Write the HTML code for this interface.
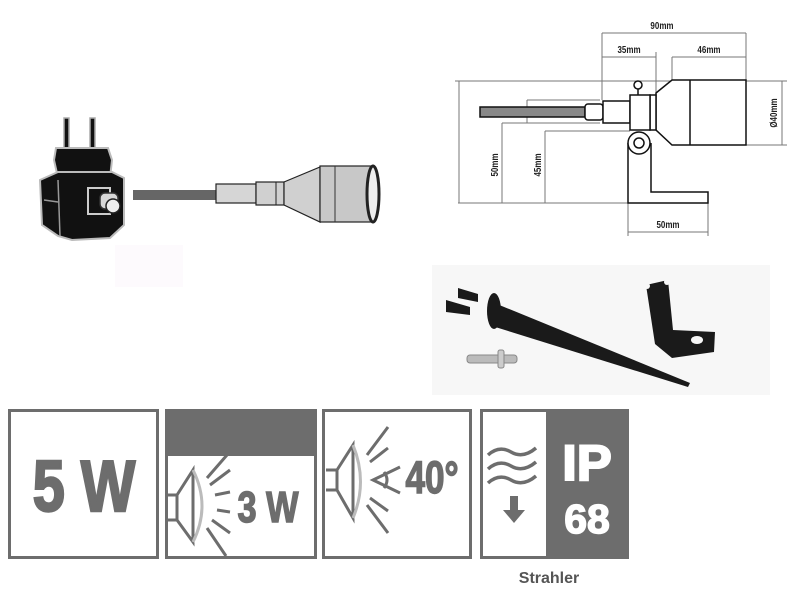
<!DOCTYPE html>
<html><head><meta charset="utf-8"><style>
html,body{margin:0;padding:0;background:#fff;width:800px;height:600px;overflow:hidden}
svg{display:block}
text{font-family:"Liberation Sans",sans-serif}
</style></head><body>
<svg width="800" height="600" viewBox="0 0 800 600">
<!-- plug -->
<g>
<rect x="64" y="118" width="5" height="30" fill="#111" stroke="#aaa" stroke-width="1.5"/>
<rect x="90" y="118" width="5" height="30" fill="#111" stroke="#aaa" stroke-width="1.5"/>
<path d="M56 148 L108 148 L112 160 L110 178 L58 178 L54 160 Z" fill="#111" stroke="#bbb" stroke-width="2"/>
<path d="M40 180 L58 172 L112 172 L124 178 L124 225 L110 238 L72 240 L58 236 L42 225 Z" fill="#111" stroke="#bbb" stroke-width="2"/>
<line x1="58" y1="180" x2="60" y2="236" stroke="#999" stroke-width="1.5"/>
<line x1="44" y1="200" x2="58" y2="202" stroke="#999" stroke-width="1.5"/>
<rect x="88" y="188" width="22" height="26" fill="#111" stroke="#ccc" stroke-width="2"/>
<rect x="100" y="193" width="18" height="16" rx="5" fill="#d8d8d8" stroke="#333" stroke-width="1.5"/>
<circle cx="113" cy="206" r="7" fill="#eee" stroke="#222" stroke-width="1.5"/>
</g>
<!-- cable & connector -->
<rect x="133" y="190" width="84" height="10" fill="#666"/>
<rect x="216" y="184" width="40" height="19" fill="#d6d6d6" stroke="#222" stroke-width="1.2"/>
<rect x="256" y="182" width="28" height="23" fill="#d0d0d0" stroke="#222" stroke-width="1.2"/>
<line x1="276" y1="182" x2="276" y2="205" stroke="#222"/>
<path d="M284 182 L320 167 L320 222 L284 205 Z" fill="#d0d0d0" stroke="#222" stroke-width="1.2"/>
<rect x="320" y="166" width="53" height="56" fill="#c8c8c8" stroke="#222" stroke-width="1.2"/>
<line x1="335" y1="166" x2="335" y2="222" stroke="#333"/>
<ellipse cx="373" cy="194" rx="6" ry="28" fill="#eee" stroke="#222" stroke-width="3"/>
<rect x="115" y="245" width="68" height="42" fill="#fdfafd"/>
<!-- technical drawing -->
<g stroke="#777" stroke-width="1" fill="none">
<line x1="602" y1="33" x2="746" y2="33"/>
<line x1="602" y1="57" x2="656" y2="57"/>
<line x1="672" y1="57" x2="746" y2="57"/>
<line x1="602" y1="33" x2="602" y2="100"/>
<line x1="656" y1="52" x2="656" y2="95"/>
<line x1="672" y1="57" x2="672" y2="80"/>
<line x1="746" y1="33" x2="746" y2="80"/>
<line x1="455" y1="81" x2="690" y2="81"/>
<line x1="746" y1="81" x2="787" y2="81"/>
<line x1="746" y1="145" x2="787" y2="145"/>
<line x1="782" y1="81" x2="782" y2="145"/>
<line x1="459" y1="81" x2="459" y2="203"/>
<line x1="458" y1="203" x2="628" y2="203"/>
<line x1="502" y1="123" x2="502" y2="203"/>
<line x1="502" y1="123" x2="600" y2="123"/>
<line x1="545" y1="131" x2="545" y2="203"/>
<line x1="545" y1="131" x2="630" y2="131"/>
<line x1="527" y1="100" x2="527" y2="123"/>
<line x1="527" y1="100" x2="600" y2="100"/>
<line x1="628" y1="203" x2="628" y2="236"/>
<line x1="708" y1="203" x2="708" y2="236"/>
<line x1="628" y1="232" x2="708" y2="232"/>
</g>
<g stroke="#111" stroke-width="1.5" fill="#fff">
<rect x="480" y="107" width="105" height="10" fill="#888"/>
<rect x="585" y="104" width="18" height="16" rx="3"/>
<rect x="603" y="101" width="27" height="22"/>
<path d="M656 93 L672 80 L746 80 L746 145 L672 145 L656 130 Z"/>
<line x1="690" y1="80" x2="690" y2="145"/>
<rect x="650" y="95" width="6" height="35"/>
<rect x="630" y="95" width="20" height="35"/>
<line x1="638" y1="95" x2="638" y2="88"/>
<circle cx="638" cy="85" r="4"/>
<path d="M628 143 L628 203 L708 203 L708 192 L651 192 L651 143"/>
<circle cx="639" cy="143" r="11"/>
<circle cx="639" cy="143" r="5"/>
</g>
<g font-size="10" fill="#222" font-weight="bold">
<text x="662" y="29" text-anchor="middle" transform="translate(662 0) scale(0.8 1) translate(-662 0)">90mm</text>
<text x="629" y="53" text-anchor="middle" transform="translate(629 0) scale(0.8 1) translate(-629 0)">35mm</text>
<text x="709" y="53" text-anchor="middle" transform="translate(709 0) scale(0.8 1) translate(-709 0)">46mm</text>
<text x="668" y="228" text-anchor="middle" transform="translate(668 0) scale(0.8 1) translate(-668 0)">50mm</text>
<text transform="translate(498 165) rotate(-90) scale(0.8 1)" text-anchor="middle">50mm</text>
<text transform="translate(541 165) rotate(-90) scale(0.8 1)" text-anchor="middle">45mm</text>
<text transform="translate(777 113) rotate(-90) scale(0.8 1)" text-anchor="middle">Ø40mm</text>
</g>
<!-- photo -->
<rect x="432" y="265" width="338" height="130" fill="#f7f7f7"/>
<g fill="#1a1a1a">
<path d="M458 288 L478 294 L478 302 L458 298 Z"/>
<path d="M446 300 L470 307 L470 315 L446 312 Z"/>
<ellipse cx="494" cy="311" rx="7" ry="18"/>
<path d="M492 302 L690 383 L688 387 L492 326 Z"/>
<path d="M646 285 L668 280 L673 330 L715 332 L714 352 L672 358 L655 344 Z"/>
</g>
<circle cx="647" cy="286" r="3" fill="#f7f7f7"/><circle cx="667" cy="282" r="3" fill="#f7f7f7"/>
<ellipse cx="697" cy="340" rx="6" ry="4" fill="#f7f7f7"/>
<rect x="467" y="355" width="50" height="8" rx="3" fill="#bbb" stroke="#888"/>
<rect x="498" y="350" width="6" height="18" rx="2" fill="#ccc" stroke="#888"/>
<!-- icons -->
<g fill="none" stroke="#6d6d6d" stroke-width="3">
<rect x="9.5" y="410.5" width="148" height="147"/>
<rect x="166.5" y="410.5" width="149" height="147"/>
<rect x="323.5" y="410.5" width="147" height="147"/>
<rect x="481.5" y="410.5" width="146" height="147"/>
</g>
<rect x="166" y="410" width="151" height="46" fill="#6d6d6d"/>
<rect x="546" y="410" width="83" height="149" fill="#6d6d6d"/>
<text x="84" y="511" font-size="72" font-weight="bold" fill="#6d6d6d" stroke="#6d6d6d" stroke-width="2.5" text-anchor="middle" transform="translate(84 0) scale(0.8 1) translate(-84 0)">5 W</text>
<!-- lamp icon box2 -->
<g stroke="#6d6d6d" stroke-width="3" fill="none">
<path d="M168 495 L177 495 L177 520 L168 520"/>
<path d="M177 495 L193 470 L193 542 L177 520"/>
<path d="M207 478 L227 455 M210 485 L230 470 M215 495 L230 492 M217 510 L230 512 M212 520 L230 533 M207 528 L226 556"/>
</g>
<path d="M193 470 Q211 506 193 542" stroke="#bbb" stroke-width="3" fill="none"/>
<text x="268" y="522" font-size="44" font-weight="bold" fill="#6d6d6d" stroke="#6d6d6d" stroke-width="1.5" text-anchor="middle" transform="translate(268 0) scale(0.78 1) translate(-268 0)">3 W</text>
<!-- lamp icon box3 -->
<g stroke="#6d6d6d" stroke-width="3" fill="none">
<path d="M326 470 L337 470 L337 490 L326 490"/>
<path d="M337 470 L353 445 L353 518 L337 490"/>
<path d="M367 455 L388 427 M370 462 L388 448 M400 467 L373 480 L400 493 M370 498 L388 511 M367 505 L388 533"/>
<path d="M384 472 Q390 480 384 488"/>
</g>
<path d="M353 445 Q368 482 353 518" stroke="#bbb" stroke-width="3" fill="none"/>
<text x="432" y="493" font-size="45" font-weight="bold" fill="#6d6d6d" stroke="#6d6d6d" stroke-width="1.5" text-anchor="middle" transform="translate(432 0) scale(0.78 1) translate(-432 0)">40°</text>
<!-- waves -->
<g stroke="#6d6d6d" stroke-width="3.5" fill="none">
<path d="M488 455 Q499 445 511 452 Q523 459 536 448"/>
<path d="M488 469 Q499 459 511 466 Q523 473 536 462"/>
<path d="M488 483 Q499 473 511 480 Q523 487 536 476"/>
</g>
<path d="M510 496 L518 496 L518 510 L525 510 L514 523 L503 510 L510 510 Z" fill="#6d6d6d"/>
<text x="587" y="480" font-size="50" font-weight="bold" fill="#fff" stroke="#fff" stroke-width="2" text-anchor="middle" transform="translate(587 0) scale(1.05 1) translate(-587 0)">IP</text>
<text x="587" y="533" font-size="41" font-weight="bold" fill="#fff" stroke="#fff" stroke-width="1.5" text-anchor="middle">68</text>
<text x="549" y="583" font-size="16" font-weight="bold" fill="#555" text-anchor="middle">Strahler</text>
</svg>
</body></html>
